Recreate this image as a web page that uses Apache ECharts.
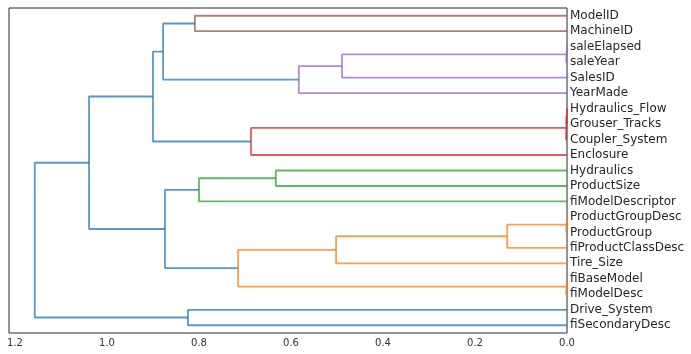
<!DOCTYPE html>
<html>
<head>
<meta charset="utf-8">
<script src="https://cdn.jsdelivr.net/npm/echarts@6/dist/echarts.min.js"></script>
<style>
  html, body { margin: 0; padding: 0; background: #fff; }
  #chart { width: 691px; height: 354px; }
</style>
</head>
<body>
<div id="chart"></div>
<script>
// leaves, top to bottom
const leaves = [
  "ModelID", "MachineID", "saleElapsed", "saleYear", "SalesID", "YearMade",
  "Hydraulics_Flow", "Grouser_Tracks", "Coupler_System", "Enclosure",
  "Hydraulics", "ProductSize", "fiModelDescriptor", "ProductGroupDesc",
  "ProductGroup", "fiProductClassDesc", "Tire_Size", "fiBaseModel",
  "fiModelDesc", "Drive_System", "fiSecondaryDesc"
];

// linkage rows: [childA, childB, distance]; ids >= 21 are earlier merges
const mergeA = [2, 21, 22, 0, 24, 6, 26, 27, 25, 10, 30, 13, 32, 33, 17, 34, 31, 29, 19, 38];
const mergeB = [3, 4, 5, 1, 23, 7, 8, 9, 28, 11, 12, 14, 15, 16, 18, 35, 36, 37, 20, 39];
const mergeDist = [0.002, 0.489, 0.583, 0.809, 0.878, 0.001, 0.002, 0.687, 0.900, 0.633,
  0.800, 0.002, 0.130, 0.502, 0.002, 0.715, 0.874, 1.039, 0.824, 1.157];
const mergeColor = ["C4", "C4", "C4", "C5", "C0", "C3", "C3", "C3", "C0", "C2",
  "C2", "C1", "C1", "C1", "C1", "C1", "C0", "C0", "C0", "C0"];

const palette = {
  C0: "rgba(31,119,180,0.75)",
  C1: "rgba(255,127,14,0.75)",
  C2: "rgba(44,160,44,0.75)",
  C3: "rgba(214,39,40,0.75)",
  C4: "rgba(148,103,189,0.75)",
  C5: "rgba(140,86,75,0.75)"
};

const n = leaves.length;
const pos = leaves.map((_, i) => 5 + 10 * i);
const height = leaves.map(() => 0);

const series = mergeA.map((a, k) => {
  const b = mergeB[k];
  const h = mergeDist[k];
  const id = n + k;
  pos[id] = (pos[a] + pos[b]) / 2;
  height[id] = h;
  return {
    type: "line",
    xAxisIndex: 0,
    yAxisIndex: 1,
    showSymbol: false,
    silent: true,
    animation: false,
    lineStyle: { color: palette[mergeColor[k]], width: 1.8 },
    data: [[height[a], pos[a]], [h, pos[a]], [h, pos[b]], [height[b], pos[b]]]
  };
});

const chart = echarts.init(document.getElementById("chart"));
chart.setOption({
  animation: false,
  grid: {
    left: 9, right: 124, top: 8, bottom: 21,
    show: true, borderColor: "#262626", borderWidth: 1, backgroundColor: "#fff"
  },
  xAxis: {
    type: "value",
    min: 0,
    max: 1.213,
    interval: 0.2,
    inverse: true,
    axisLine: { show: false },
    axisTick: { show: false },
    splitLine: { show: false },
    axisLabel: {
      color: "#333",
      fontSize: 10,
      fontFamily: "DejaVu Sans",
      margin: 5,
      showMaxLabel: false,
      formatter: (v) => v.toFixed(1)
    }
  },
  yAxis: [
    {
      type: "category",
      data: leaves,
      inverse: true,
      position: "right",
      axisLine: { show: false },
      axisTick: { show: false },
      splitLine: { show: false },
      axisLabel: {
        color: "#262626",
        fontSize: 12,
        fontFamily: "DejaVu Sans",
        margin: 3,
        interval: 0
      }
    },
    {
      type: "value",
      min: 0,
      max: 10 * n,
      inverse: true,
      show: false
    }
  ],
  series: series
});
</script>
</body>
</html>
